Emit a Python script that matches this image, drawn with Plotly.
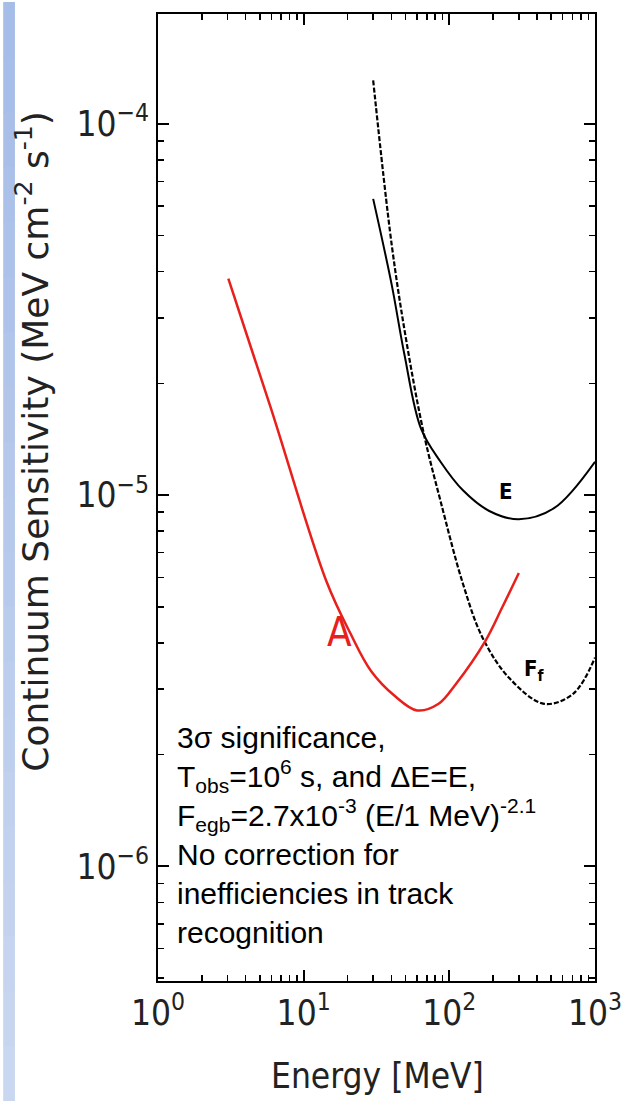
import plotly.graph_objects as go

# ---- data ----
a_energy = [3.04, 5.91, 14.3, 21.0, 29.0, 42.1, 60.0, 84.4, 111, 177, 230, 300]
a_sens = [3.83e-5, 1.73e-5, 5.87e-6, 4.23e-6, 3.36e-6, 2.88e-6, 2.63e-6, 2.74e-6, 3.10e-6, 4.05e-6, 4.97e-6, 6.17e-6]

e_energy = [30.0, 40.2, 49.1, 63.9, 87.0, 124, 188, 300, 523, 1000]
e_sens = [6.28e-5, 3.69e-5, 2.40e-5, 1.51e-5, 1.23e-5, 1.03e-5, 9.06e-6, 8.61e-6, 9.22e-6, 1.23e-5]

f_energy = [30.0, 40.2, 50.7, 66.9, 87.0, 124, 169, 257, 448, 711, 1000]
f_sens = [1.31e-4, 4.73e-5, 2.60e-5, 1.46e-5, 9.64e-6, 5.77e-6, 4.13e-6, 3.22e-6, 2.74e-6, 2.92e-6, 3.65e-6]

x_tickvals = [1, 10, 100, 1000]
x_ticktext = ["10<sup>0</sup>", "10<sup>1</sup>", "10<sup>2</sup>", "10<sup>3</sup>"]
y_tickvals = [1e-6, 1e-5, 1e-4]
y_ticktext = ["10<sup>\u22126</sup>", "10<sup>\u22125</sup>", "10<sup>\u22124</sup>"]

note_lines = [
    "3\u03c3 significance,",
    "T<sub>obs</sub>=10<sup>6</sup> s, and \u0394E=E,",
    "F<sub>egb</sub>=2.7x10<sup>-3</sup> (E/1 MeV)<sup>-2.1</sup>",
    "No correction for",
    "inefficiencies in track",
    "recognition",
]

NARROW = "DejaVu Sans Condensed, DejaVu Sans, Liberation Sans, sans-serif"

fig = go.Figure()
fig.add_trace(go.Scatter(x=e_energy, y=e_sens, mode="lines", line=dict(color="black", width=2, shape="spline"), showlegend=False, hoverinfo="skip"))
fig.add_trace(go.Scatter(x=f_energy, y=f_sens, mode="lines", line=dict(color="black", width=2.2, dash="5px,2px", shape="spline"), showlegend=False, hoverinfo="skip"))
fig.add_trace(go.Scatter(x=a_energy, y=a_sens, mode="lines", line=dict(color="#e8201c", width=2.5, shape="spline"), showlegend=False, hoverinfo="skip"))

minor_x = [m * 10 ** d for d in range(0, 3) for m in range(2, 10)]
minor_y = [m * 10 ** d for d in range(-7, -3) for m in range(2, 10)]

axis_common = dict(
    showline=True, linecolor="black", linewidth=2, mirror="allticks",
    ticks="inside", ticklen=11, tickwidth=2, tickcolor="black",
    showgrid=False, zeroline=False, ticklabeloverflow="allow",
    tickfont=dict(family=NARROW, size=35, color="#222"),
)

fig.update_xaxes(type="log", range=[0, 3], tickmode="array", tickvals=x_tickvals, ticktext=x_ticktext,
                 minor=dict(ticks="inside", ticklen=6, tickwidth=1.5, tickcolor="black", tickmode="array", tickvals=minor_x, showgrid=False),
                 **axis_common)
fig.update_yaxes(type="log", range=[-6.309, -3.704], tickmode="array", tickvals=y_tickvals, ticktext=y_ticktext,
                 minor=dict(ticks="inside", ticklen=6, tickwidth=1.5, tickcolor="black", tickmode="array", tickvals=minor_y, showgrid=False),
                 **axis_common)

# light-blue bar at the left edge (gradient)
n_seg = 20
for i in range(n_seg):
    t = i / (n_seg - 1)
    r = int(166 + (202 - 166) * t)
    g = int(189 + (215 - 189) * t)
    b = int(232 + (240 - 232) * t)
    y1 = 1 + 12 / 969 - i * (1101 / 969) / n_seg
    y0 = y1 - (1101 / 969) / n_seg - 0.001
    fig.add_shape(type="rect", xref="paper", yref="paper", x0=-158 / 446, x1=-146 / 446, y0=y0, y1=y1,
                  line=dict(width=0), fillcolor=f"rgb({r},{g},{b})", layer="below")

fig.add_annotation(text="Continuum Sensitivity (MeV cm<sup>-2</sup> s<sup>-1</sup>)", textangle=-90,
                   xref="paper", yref="paper", x=(30 - 158) / 446, y=(981 - 440) / 969,
                   xanchor="center", yanchor="middle", showarrow=False,
                   font=dict(family="DejaVu Sans, Liberation Sans, sans-serif", size=36, color="#222"))
fig.add_annotation(text="Energy [MeV]", xref="paper", yref="paper", x=(382 - 158) / 446, y=-(1076 - 981) / 969,
                   xanchor="center", yanchor="middle",
                   showarrow=False, font=dict(family=NARROW, size=35, color="#222"))

fig.add_annotation(text="<br>".join(note_lines), xref="paper", yref="paper", x=(175 - 158) / 446, y=(981 - 718) / 969,
                   xanchor="left", yanchor="top", align="left", showarrow=False,
                   font=dict(family="Liberation Sans, Arial, sans-serif", size=30, color="black"))

fig.add_annotation(text="<b>E</b>", x=2.387, y=-4.989, xref="x", yref="y", showarrow=False,
                   font=dict(family=NARROW, size=22, color="black"))
fig.add_annotation(text="<b>F<sub>f</sub></b>", x=2.586, y=-5.473, xref="x", yref="y", showarrow=False,
                   font=dict(family=NARROW, size=22, color="black"))
fig.add_annotation(text="A", x=1.245, y=-5.368, xref="x", yref="y", showarrow=False,
                   font=dict(family=NARROW, size=40, color="#e8201c"))

fig.update_layout(width=634, height=1101, margin=dict(l=158, r=30, t=12, b=120),
                  plot_bgcolor="white", paper_bgcolor="white", hovermode=False)

fig.write_html("out.html", config={"displayModeBar": False, "staticPlot": True},
               post_script="document.body.style.margin='0';document.body.style.overflow='hidden';")
